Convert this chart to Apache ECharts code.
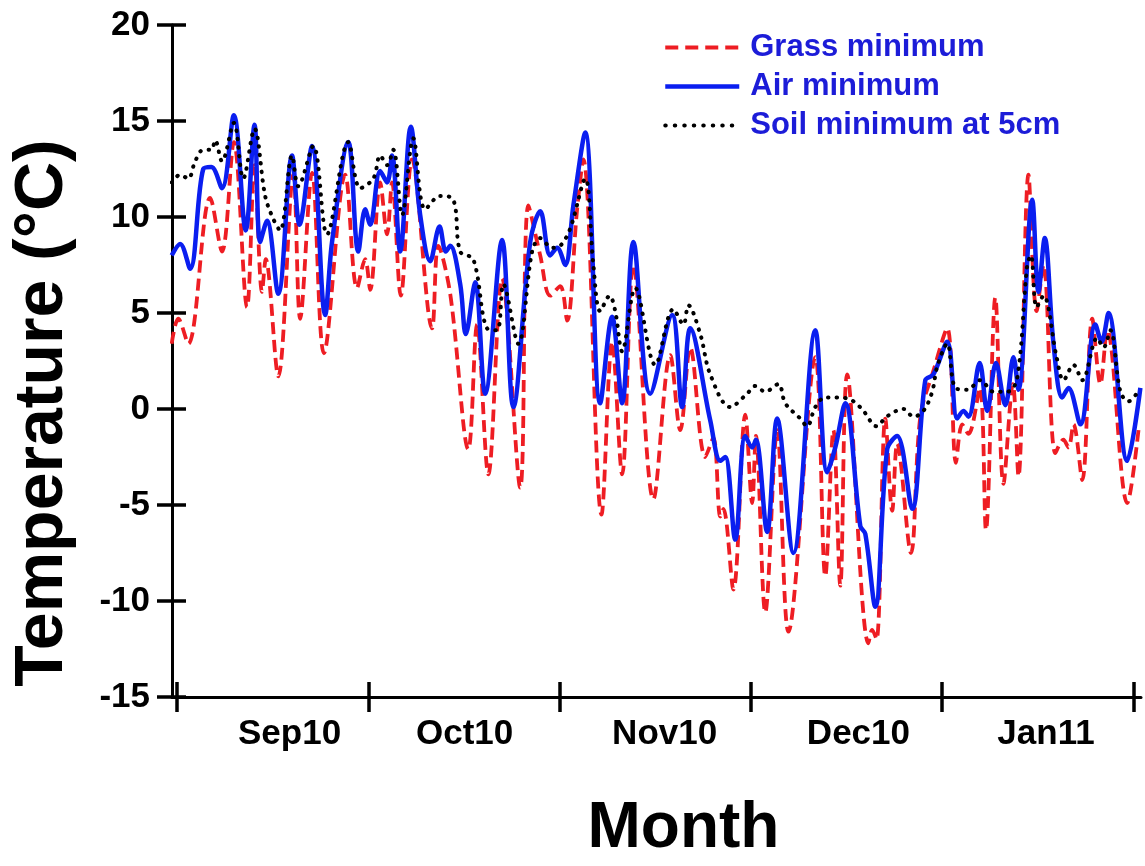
<!DOCTYPE html>
<html>
<head>
<meta charset="utf-8">
<script src="https://cdn.jsdelivr.net/npm/echarts@6/dist/echarts.min.js"></script>
<style>
  html, body { margin: 0; padding: 0; background: #fff; }
  #chart { width: 1145px; height: 866px; }
</style>
</head>
<body>
<div id="chart"></div>
<script>
// x = day number, day 0 = 1 Sep 2010
const grassMin = [
  [-0.85, 3.4], [0.2, 4.7], [1.8, 3.4], [5.3, 11.0], [7.2, 8.2], [9.1, 13.9], [11.2, 5.3],
  [12.4, 12.7], [13.6, 6.1], [14.2, 7.8], [16.2, 1.7], [18.6, 12.2], [19.7, 4.7], [21.6, 12.3],
  [23.5, 2.9], [26.9, 12.2], [28.8, 6.3], [30.1, 7.8], [30.9, 6.2], [32.5, 11.8], [33.6, 9.1],
  [34.4, 11.8], [35.8, 5.9], [37.6, 13.0], [40.8, 4.2], [41.8, 8.5], [43.7, 6.0], [46.6, -2.1],
  [48.0, 4.4], [49.8, -3.4], [52.0, 6.8], [54.9, -4.1], [56.2, 10.6], [58.1, 8.0], [59.7, 5.9],
  [61.3, 6.4], [62.4, 4.6], [64.0, 10.4], [65.0, 13.0], [67.9, -5.5], [69.6, 3.5], [71.2, -3.4],
  [73.0, 7.5], [76.2, -4.7], [78.9, 2.8], [80.5, -1.1], [82.1, 3.2], [84.5, -2.5], [85.8, -1.5],
  [86.9, -5.6], [87.4, -5.2], [89.0, -9.4], [90.9, -0.3], [92.0, -4.9], [92.6, -1.4], [94.1, -10.6],
  [96.0, -1.1], [97.8, -11.6], [102.1, 2.7], [103.7, -8.7], [105.0, -1.1], [106.1, -9.2], [107.2, 1.8],
  [110.6, -12.2], [111.2, -11.5], [111.9, -12.0], [113.3, -0.5], [114.4, -5.3], [115.2, -1.8],
  [117.4, -7.5], [118.9, -0.4], [121.0, 2.0], [123.2, 4.2], [124.6, -2.8], [125.6, -0.8], [126.6, -1.3],
  [128.4, 1.1], [129.4, -6.3], [130.9, 5.8], [132.2, -3.9], [133.7, 1.3], [134.6, -3.5], [136.2, 12.2],
  [137.5, 5.1], [138.6, 7.5], [140.5, -2.3], [141.8, -1.6], [142.6, -2.0], [143.4, -0.8], [144.8, -3.7],
  [146.4, 4.7], [147.7, 1.3], [148.8, 4.1], [152.0, -4.9], [153.8, -1.1]
];

const airMin = [
  [-0.85, 8.0], [0.5, 8.6], [2.1, 7.3], [4.2, 12.5], [5.5, 12.6], [7.2, 11.5], [9.1, 15.3],
  [11.0, 9.3], [12.4, 14.8], [13.3, 8.7], [14.4, 9.8], [16.2, 6.0], [18.4, 13.2], [19.6, 9.6],
  [21.6, 13.7], [23.7, 4.9], [24.8, 8.7], [27.4, 13.9], [29.0, 8.2], [30.1, 10.4], [30.9, 9.6],
  [32.5, 12.4], [33.6, 11.8], [34.4, 13.2], [35.7, 8.2], [37.4, 14.7], [38.9, 10.1], [40.5, 7.7],
  [42.0, 9.5], [43.0, 8.2], [43.7, 8.5], [45.3, 6.5], [46.2, 3.9], [47.7, 6.6], [49.3, 0.8],
  [52.0, 8.8], [53.8, 0.1], [56.5, 8.7], [58.1, 10.3], [59.7, 8.0], [60.8, 8.4], [62.1, 7.5],
  [63.4, 10.6], [65.3, 14.4], [67.7, 0.3], [69.6, 4.8], [71.2, 0.3], [73.0, 8.7], [75.7, 0.8],
  [79.2, 4.9], [80.8, 0.1], [82.1, 4.2], [85.3, -0.6], [86.9, -2.7], [87.7, -2.5], [89.3, -6.8],
  [90.9, -1.4], [92.0, -2.0], [92.6, -1.6], [94.4, -6.4], [96.0, -0.5], [98.6, -7.5], [102.1, 4.1],
  [104.0, -3.3], [105.3, -2.0], [106.9, 0.3], [109.3, -6.1], [110.1, -6.5], [111.7, -10.3],
  [113.6, -2.1], [115.2, -1.4], [117.6, -5.2], [119.7, 1.5], [121.0, 1.8], [123.2, 3.5], [124.8, -0.5],
  [125.8, -0.1], [126.6, -0.4], [128.4, 2.4], [129.6, -0.1], [131.0, 2.4], [132.5, 0.2], [133.8, 2.7],
  [134.6, 1.0], [136.8, 10.9], [137.8, 6.1], [138.8, 8.9], [140.2, 3.4], [141.6, 0.6], [142.6, 1.1],
  [144.5, -0.8], [146.9, 4.4], [147.9, 3.5], [149.0, 5.0], [152.0, -2.7], [154.1, 1.1]
];

const soilMin5cm = [
  [-0.85, 11.8], [0.5, 12.2], [1.8, 12.0], [2.9, 12.9], [4.2, 13.5], [5.5, 13.5], [6.1, 14.0],
  [7.2, 12.9], [9.1, 14.9], [10.6, 12.0], [12.4, 14.6], [14.1, 11.1], [15.4, 9.9], [16.5, 9.3],
  [18.4, 13.2], [19.4, 11.6], [21.8, 13.7], [24.0, 9.1], [27.4, 13.9], [29.3, 11.5], [31.4, 12.0],
  [32.5, 13.2], [33.6, 12.7], [34.6, 13.5], [36.0, 10.1], [37.8, 14.1], [39.7, 10.4], [42.1, 11.1],
  [44.2, 10.9], [45.3, 8.2], [47.4, 7.8], [49.6, 4.2], [51.2, 4.1], [52.2, 6.5], [54.6, 3.4],
  [56.8, 8.2], [58.1, 8.9], [60.0, 8.4], [61.3, 8.5], [62.9, 9.4], [65.3, 12.0], [66.6, 7.5],
  [67.7, 5.1], [69.2, 5.9], [70.1, 5.1], [71.2, 3.0], [73.3, 6.3], [76.5, 2.3], [79.4, 5.2],
  [81.0, 4.4], [81.8, 5.4], [83.7, 3.9], [85.3, 1.8], [88.5, 0.1], [91.2, 0.8], [92.5, 1.2],
  [94.1, 0.9], [96.2, 1.3], [97.3, 0.3], [99.7, -0.5], [100.8, -0.9], [102.1, 0.1], [103.7, 0.6],
  [106.1, 0.6], [108.2, 0.4], [109.8, -0.1], [111.9, -0.9], [113.5, -0.4], [116.2, 0.0], [117.8, -0.4],
  [119.4, -0.1], [120.8, 0.9], [121.6, 2.2], [123.2, 3.4], [124.5, 1.1], [126.4, 1.0], [128.5, 1.5],
  [130.6, 0.9], [132.8, 0.9], [134.4, 1.6], [136.0, 7.5], [136.6, 8.0], [137.5, 5.3], [138.6, 5.9],
  [140.7, 2.7], [141.8, 1.5], [143.4, 2.3], [144.8, 1.5], [147.2, 3.7], [148.2, 3.2], [149.3, 4.1],
  [150.9, 0.9], [152.2, 0.4], [153.5, 0.8]
];

// month boundaries (ticks) and month label positions, in days
const monthTicks = [0, 30.6, 61.2, 91.8, 122.4, 153];
const monthLabelDays = [18, 46, 78, 109, 139];
const monthLabels = ['Sep10', 'Oct10', 'Nov10', 'Dec10', 'Jan11'];

const FONT = '"Liberation Sans", Arial, sans-serif';
const RED = '#ee1d23';
const BLUE = '#0a1ef0';
const LEGEND_BLUE = '#1c1cd8';

const chart = echarts.init(document.getElementById('chart'), null, { renderer: 'canvas' });

const xBase = { type: 'value', min: -0.8, max: 154.2, position: 'bottom', splitLine: { show: false } };
const yBase = { type: 'value', min: -15, max: 20, interval: 5, position: 'left', splitLine: { show: false } };

chart.setOption({
  animation: false,
  textStyle: { fontFamily: FONT },
  grid: { left: 172, right: 4, top: 25, bottom: 164 },
  legend: {
    orient: 'vertical',
    left: 658,
    top: 27,
    itemWidth: 74,
    itemHeight: 14,
    itemGap: 8,
    itemStyle: { opacity: 0 },
    textStyle: { color: LEGEND_BLUE, fontSize: 31, fontWeight: 'bold', fontFamily: FONT, padding: [0, 0, 0, 6] },
    data: [
      { name: 'Grass minimum', lineStyle: { width: 4, type: [13, 7] } },
      { name: 'Air minimum', lineStyle: { width: 4.5 } },
      { name: 'Soil minimum at 5cm', lineStyle: { width: 4, type: [0.5, 9], cap: 'round' } }
    ]
  },
  xAxis: [
    Object.assign({}, xBase, {
      name: 'Month',
      nameLocation: 'middle',
      nameGap: 100,
      nameTextStyle: { fontSize: 64, fontWeight: 'bold', color: '#000', padding: [0, 0, 0, 54] },
      axisLine: { show: true, onZero: false, lineStyle: { color: '#000', width: 3 } },
      axisTick: { show: true, customValues: monthTicks, length: 15, lineStyle: { color: '#000', width: 3.5 } },
      axisLabel: {
        customValues: monthLabelDays,
        formatter: (v) => monthLabels[monthLabelDays.indexOf(v)] || '',
        margin: 20, fontSize: 35, fontWeight: 'bold', color: '#000'
      }
    }),
    Object.assign({}, xBase, {
      axisLine: { show: false, onZero: false },
      axisTick: { show: true, inside: true, customValues: monthTicks, length: 15, lineStyle: { color: '#000', width: 3.5 } },
      axisLabel: { show: false }
    })
  ],
  yAxis: [
    Object.assign({}, yBase, {
      name: 'Temperature (°C)',
      nameLocation: 'middle',
      nameGap: 95,
      nameTextStyle: { fontSize: 68, fontWeight: 'bold', color: '#000', padding: [0, 104, 0, 0] },
      axisLine: { show: true, onZero: false, lineStyle: { color: '#000', width: 3 } },
      axisTick: { show: true, length: 15, lineStyle: { color: '#000', width: 3.5 } },
      axisLabel: { margin: 22, fontSize: 35, fontWeight: 'bold', color: '#000' }
    }),
    Object.assign({}, yBase, {
      axisLine: { show: false, onZero: false },
      axisTick: { show: true, inside: true, length: 14, lineStyle: { color: '#000', width: 3.5 } },
      axisLabel: { show: false }
    })
  ],
  series: [
    {
      name: 'Grass minimum', type: 'line', data: grassMin, smooth: 0.35, symbol: 'none',
      lineStyle: { color: RED, width: 3.8, type: [12, 6] }, itemStyle: { color: RED }
    },
    {
      name: 'Air minimum', type: 'line', data: airMin, smooth: 0.35, symbol: 'none',
      lineStyle: { color: BLUE, width: 4.5 }, itemStyle: { color: BLUE }
    },
    {
      name: 'Soil minimum at 5cm', type: 'line', data: soilMin5cm, smooth: 0.35, symbol: 'none',
      lineStyle: { color: '#000', width: 4, type: [0.5, 8], cap: 'round' }, itemStyle: { color: '#000' }
    }
  ]
});
</script>
</body>
</html>
